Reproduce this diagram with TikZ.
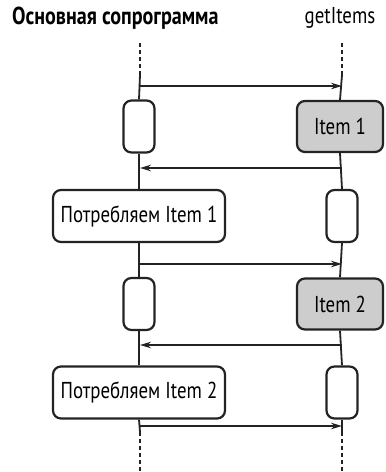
\documentclass[tikz,border=0pt]{standalone}
\usepackage{fontspec}
\setmainfont[FakeStretch=0.82]{PT Sans}
\usetikzlibrary{arrows.meta}
\definecolor{ink}{RGB}{35,35,35}
\definecolor{itemgray}{RGB}{205,205,205}
\begin{document}
\begin{tikzpicture}[x=1pt,y=-1pt,
  box/.style={draw=ink,line width=2.2pt,rounded corners=8pt,inner sep=0pt,font=\fontsize{23}{24}\selectfont},
  small/.style={box,minimum width=31,minimum height=52},
  item/.style={box,fill=itemgray,minimum width=86,minimum height=51},
  cons/.style={box,minimum width=172,minimum height=52},
  life/.style={ink,line width=1.8pt},
  dline/.style={life,dash pattern=on 4pt off 3pt},
  msg/.style={ink,line width=1.6pt,-{Stealth[length=11pt,width=6.5pt]}}]
\useasboundingbox (0,0) rectangle (386,472);
\node[anchor=west,font=\bfseries\fontsize{24.5}{26}\selectfont,inner xsep=0pt] (t1) at (12,18) {Основная сопрограмма};
\node[font=\fontsize{23}{24}\selectfont] (t2) at (340,18) {getItems};
% boxes
\node[small] (s1) at (139,126.5) {};
\node[item] (i1) at (340,126.5) {Item 1};
\node[cons] (p1) at (139,216) {Потребляем Item 1};
\node[small] (s2) at (342,216) {};
\node[small] (s3) at (139,304) {};
\node[item] (i2) at (340,304) {Item 2};
\node[cons] (p2) at (139,392.5) {Потребляем Item 2};
\node[small] (s4) at (342,392.5) {};
% lifeline coordinates
\coordinate (lt) at (140,43); \coordinate (ltd) at (140,75);
\coordinate (rt) at (342,43); \coordinate (rtd) at (342,75);
\coordinate (lb) at (140,432); \coordinate (lbe) at (140,472);
\coordinate (rb) at (342,432); \coordinate (rbe) at (342,472);
\draw[dline] (lt) -- (ltd);
\draw[dline] (rt) -- (rtd);
\draw[life] (ltd) -- (s1.north);
\draw[life] (rtd) -- (i1.north);
\draw[life] (s1.south) -- (p1.north);
\draw[life] (p1.south) -- (s3.north);
\draw[life] (s3.south) -- (p2.north);
\draw[life] (p2.south) -- (lb);
\draw[dline] (lb) -- (lbe);
\draw[life] (i1.south) -- (s2.north);
\draw[life] (s2.south) -- (i2.north);
\draw[life] (i2.south) -- (s4.north);
\draw[life] (s4.south) -- (rb);
\draw[dline] (rb) -- (rbe);
% messages
\coordinate (m1l) at (140,86); \coordinate (m1r) at (342,86);
\coordinate (m2l) at (140,168); \coordinate (m2r) at (342,168);
\coordinate (m3l) at (140,264); \coordinate (m3r) at (342,264);
\coordinate (m4l) at (140,345); \coordinate (m4r) at (342,345);
\coordinate (m5l) at (140,426); \coordinate (m5r) at (342,426);
\draw[msg] (m1l) -- (m1r);
\draw[msg] (m2r) -- (m2l);
\draw[msg] (m3l) -- (m3r);
\draw[msg] (m4r) -- (m4l);
\draw[msg] (m5l) -- (m5r);
\end{tikzpicture}
\end{document}
